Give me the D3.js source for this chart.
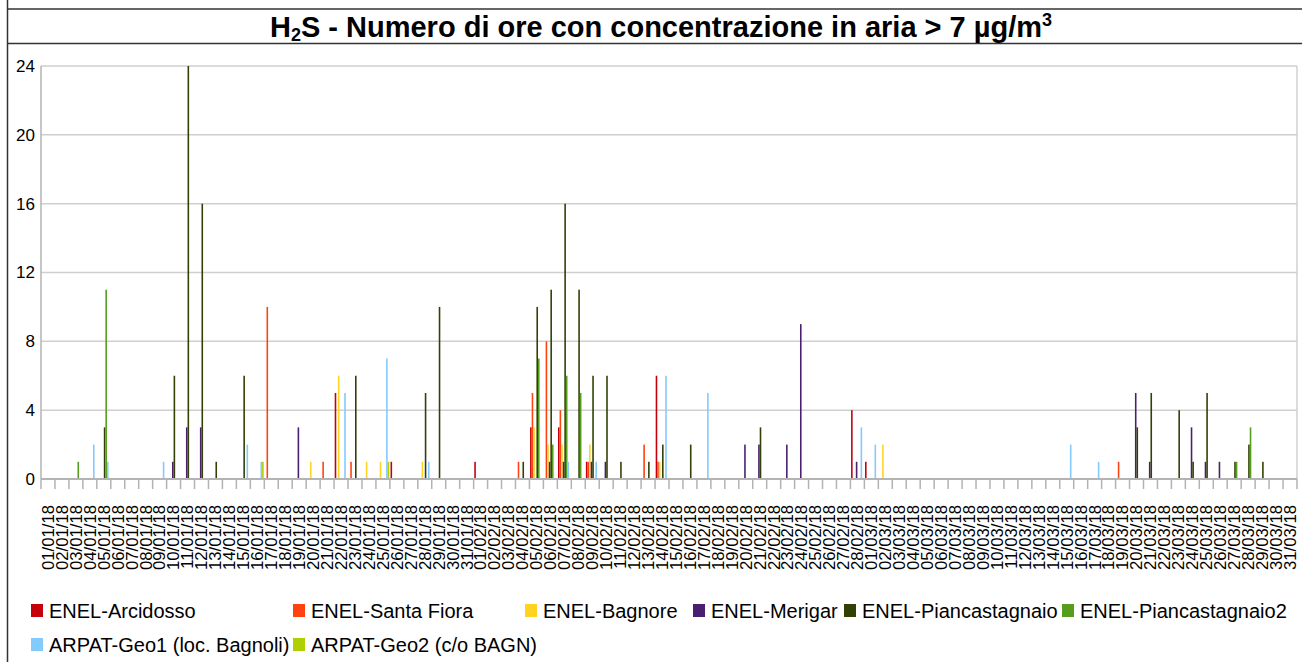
<!DOCTYPE html>
<html>
<head>
<meta charset="utf-8">
<script src="https://cdn.jsdelivr.net/npm/d3@7"></script>
<style>
  body { margin: 0; background: #fff; }
  svg { display: block; font-family: "Liberation Sans", Arial, sans-serif; }
</style>
</head>
<body>
<div id="chart"></div>
<script>
// Series names and colours (LibreOffice default palette)
var seriesNames = ["ENEL-Arcidosso", "ENEL-Santa Fiora", "ENEL-Bagnore", "ENEL-Merigar",
                   "ENEL-Piancastagnaio", "ENEL-Piancastagnaio2", "ARPAT-Geo1 (loc. Bagnoli)", "ARPAT-Geo2 (c/o BAGN)"];
var seriesColors = ["#c5000b", "#ff420e", "#ffd320", "#4b1f6f", "#314004", "#579d1c", "#83caff", "#aecf00"];

// Hours per day above 7 µg/m3, 01/01/18 .. 31/03/18 (one line per month: jan, feb, mar)
var arcidosso = [
  0,0,0,0,0,0,0,0,0,0, 0,0,0,0,0,0,0,0,0,0, 0,5,0,0,0,1,0,0,0,0, 0,
  1,0,0,0,3,0,3,0,1,0, 0,0,0,6,0,0,0,0,0,0, 0,0,0,0,0,0,0,4,
  1,0,0,0,0,0,0,0,0,0, 0,0,0,0,0,0,0,0,0,0, 0,0,0,0,0,0,0,0,0,0, 0
];
var santaFiora = [
  0,0,0,0,0,0,0,0,0,0, 0,0,0,0,0,0,10,0,0,0, 1,0,1,0,0,0,0,0,0,0, 0,
  0,0,0,1,5,8,4,0,1,0, 0,0,2,1,0,0,0,0,0,0, 0,0,0,0,0,0,0,0,
  0,0,0,0,0,0,0,0,0,0, 0,0,0,0,0,0,0,0,1,0, 0,0,0,0,0,0,0,0,0,0, 0
];
var bagnore = [
  0,0,0,0,0,0,0,0,0,0, 0,0,0,0,0,0,0,0,0,1, 0,6,0,1,1,0,0,1,0,0, 0,
  0,0,0,0,3,2,2,0,2,0, 0,0,0,1,0,0,0,0,0,0, 0,0,0,0,0,0,0,0,
  0,2,0,0,0,0,0,0,0,0, 0,0,0,0,0,0,0,0,0,0, 0,0,0,0,0,0,0,0,0,0, 0
];
var merigar = [
  0,0,0,0,0,0,0,0,0,1, 3,3,0,0,0,0,0,0,3,0, 0,0,0,0,0,0,0,0,0,0, 0,
  0,0,0,0,0,1,1,0,1,1, 0,0,0,0,0,0,0,0,0,2, 2,0,2,9,0,0,0,1,
  0,0,0,0,0,0,0,0,0,0, 0,0,0,0,0,0,0,0,0,5, 1,0,0,3,1,1,0,0,0,0, 0
];
var piancastagnaio = [
  0,0,0,0,3,0,0,0,0,6, 24,16,1,0,6,0,0,0,0,0, 0,0,6,0,0,0,0,5,10,0, 0,
  0,0,0,1,10,11,16,11,6,6, 1,0,1,2,0,2,0,0,0,0, 3,0,0,0,0,0,0,0,
  0,0,0,0,0,0,0,0,0,0, 0,0,0,0,0,0,0,0,0,3, 5,0,4,1,5,0,1,2,1,0, 0
];
var piancastagnaio2 = [
  0,0,1,0,11,0,0,0,0,0, 0,0,0,0,0,0,0,0,0,0, 0,0,0,0,0,0,0,0,0,0, 0,
  0,0,0,0,7,2,6,5,0,0, 0,0,0,0,0,0,0,0,0,0, 0,0,0,0,0,0,0,0,
  0,0,0,0,0,0,0,0,0,0, 0,0,0,0,0,0,0,0,0,0, 0,0,0,0,0,0,1,3,0,0, 0
];
var geo1 = [
  0,0,0,2,1,0,0,0,1,0, 0,0,0,0,2,1,0,0,0,0, 0,5,0,0,7,0,0,1,0,0, 0,
  0,0,0,0,0,0,1,0,1,0, 0,0,0,6,0,0,5,0,0,0, 0,0,0,0,0,0,0,3,
  2,0,0,0,0,0,0,0,0,0, 0,0,0,0,2,0,1,0,0,0, 0,0,0,0,0,0,0,0,0,0, 0
];
var geo2 = [
  0,0,0,0,0,0,0,0,0,0, 0,0,0,0,0,1,0,0,0,0, 0,0,0,0,1,0,0,0,0,0, 0,
  0,0,0,0,0,0,0,0,0,0, 0,0,0,0,0,0,0,0,0,0, 0,0,0,0,0,0,0,0,
  0,0,0,0,0,0,0,0,0,0, 0,0,0,0,0,0,0,0,0,0, 0,0,0,0,0,0,0,0,0,0, 0
];
var seriesValues = [arcidosso, santaFiora, bagnore, merigar, piancastagnaio, piancastagnaio2, geo1, geo2];

// Category labels: every day from 01/01/18 to 31/03/18
var dayLabels = d3.timeDay.range(new Date(2018, 0, 1), new Date(2018, 3, 1)).map(d3.timeFormat("%d/%m/%y"));
var yTicks = [0, 4, 8, 12, 16, 20, 24];

var W = 1302, H = 662;
var plot = {left: 41, right: 1297, top: 66, bottom: 479};

var svg = d3.select("#chart").append("svg")
    .attr("width", W)
    .attr("height", H);

// Outer frame lines
svg.append("line").attr("x1", 7.5).attr("x2", 7.5).attr("y1", 0).attr("y2", H)
   .attr("stroke", "#333").attr("stroke-width", 1.5);
svg.append("line").attr("x1", 7).attr("x2", W).attr("y1", 9).attr("y2", 9)
   .attr("stroke", "#333").attr("stroke-width", 1.5);
svg.append("line").attr("x1", 7).attr("x2", W).attr("y1", 43.5).attr("y2", 43.5)
   .attr("stroke", "#333").attr("stroke-width", 1.5);

// Title
var title = svg.append("text")
    .attr("x", 661)
    .attr("y", 37)
    .attr("text-anchor", "middle")
    .style("font-weight", "bold")
    .style("font-size", "29px");
title.append("tspan").text("H");
title.append("tspan").style("font-size", "18px").attr("dy", 4).text("2");
title.append("tspan").attr("dy", -4).text("S - Numero di ore con concentrazione in aria > 7 µg/m");
title.append("tspan").style("font-size", "18px").attr("dy", -11).text("3");

// Scales
var x = d3.scaleBand()
    .domain(dayLabels)
    .range([plot.left, plot.right])
    .padding(0);

var x1 = d3.scaleBand()
    .domain(seriesNames)
    .range([0, x.bandwidth()])
    .paddingInner(0)
    .paddingOuter(0.4);

var y = d3.scaleLinear()
    .domain([0, 24])
    .range([plot.bottom, plot.top]);

// Grid
svg.append("g")
   .selectAll("line")
   .data(yTicks)
   .join("line")
   .attr("x1", plot.left)
   .attr("x2", plot.right)
   .attr("y1", function(d) { return y(d); })
   .attr("y2", function(d) { return y(d); })
   .attr("stroke", "#cfcfcf")
   .attr("stroke-width", 1.5);

// Plot border left/right
svg.append("line").attr("x1", plot.left).attr("x2", plot.left).attr("y1", plot.top).attr("y2", plot.bottom)
   .attr("stroke", "#b3b3b3").attr("stroke-width", 1.5);
svg.append("line").attr("x1", plot.right).attr("x2", plot.right).attr("y1", plot.top).attr("y2", plot.bottom)
   .attr("stroke", "#d0d0d0").attr("stroke-width", 1.5);

// Y axis labels
svg.append("g")
   .selectAll("text")
   .data(yTicks)
   .join("text")
   .attr("x", 35)
   .attr("y", function(d) { return y(d); })
   .attr("dy", "0.35em")
   .attr("text-anchor", "end")
   .style("font-size", "17px")
   .text(function(d) { return d; });

// Bars
var groups = svg.append("g")
   .selectAll("g")
   .data(seriesNames)
   .join("g")
   .attr("fill", function(d, i) { return seriesColors[i]; });

groups.selectAll("rect")
   .data(function(name, i) {
       return seriesValues[i].map(function(v, j) { return {name: name, day: dayLabels[j], value: v}; })
                             .filter(function(d) { return d.value > 0; });
   })
   .join("rect")
   .attr("x", function(d) { return x(d.day) + x1(d.name); })
   .attr("width", x1.bandwidth())
   .attr("y", function(d) { return y(d.value); })
   .attr("height", function(d) { return y(0) - y(d.value); });

// X axis baseline and ticks
svg.append("line").attr("x1", plot.left).attr("x2", plot.right).attr("y1", plot.bottom).attr("y2", plot.bottom)
   .attr("stroke", "#b3b3b3").attr("stroke-width", 2);

svg.append("g")
   .selectAll("line")
   .data(dayLabels.concat(["end"]))
   .join("line")
   .attr("x1", function(d, i) { return plot.left + i * x.step(); })
   .attr("x2", function(d, i) { return plot.left + i * x.step(); })
   .attr("y1", plot.bottom)
   .attr("y2", plot.bottom + 10)
   .attr("stroke", "#b3b3b3")
   .attr("stroke-width", 1.5);

// X labels (rotated)
svg.append("g")
   .selectAll("text")
   .data(dayLabels)
   .join("text")
   .attr("transform", function(d) {
       return "translate(" + (x(d) + x.bandwidth() / 2) + "," + 505 + ") rotate(-90)";
   })
   .attr("dy", "0.35em")
   .attr("text-anchor", "end")
   .style("font-size", "16.7px")
   .text(function(d) { return d; });

// Legend
var legendPos = [[31, 604], [293, 604], [525, 604], [693, 604], [844, 604], [1062, 604],
                 [31, 638], [293, 638]];
var legend = svg.append("g")
   .selectAll("g")
   .data(seriesNames)
   .join("g")
   .attr("transform", function(d, i) { return "translate(" + legendPos[i][0] + "," + legendPos[i][1] + ")"; });

legend.append("rect")
   .attr("width", 12)
   .attr("height", 13)
   .attr("fill", function(d, i) { return seriesColors[i]; });

legend.append("text")
   .attr("x", 18)
   .attr("y", 14)
   .style("font-size", "20px")
   .text(function(d) { return d; });
</script>
</body>
</html>
